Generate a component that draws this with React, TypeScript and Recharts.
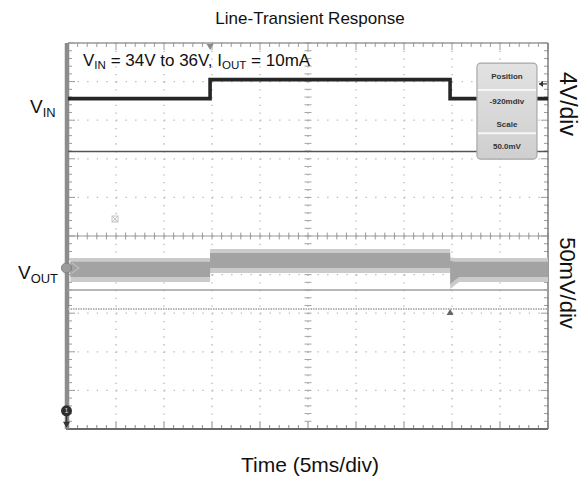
import React from 'react';
import {
  ComposedChart,
  Line,
  Area,
  XAxis,
  YAxis,
  CartesianGrid,
  ReferenceLine,
  ReferenceArea,
  ReferenceDot,
} from 'recharts';

// scope screen: 10 x 10 divisions, time 5 ms/div
const divTicks = [0, 1, 2, 3, 4, 5, 6, 7, 8, 9, 10];

// VIN trace (ch1, 4 V/div), in divisions
const vinTime = [0, 2.96, 2.96, 7.96, 7.96, 10];
const vinLevel = [8.56, 8.56, 9.05, 9.05, 8.56, 8.56];

// VOUT trace (ch2, 50 mV/div): noise envelope, in divisions
const voutTime = [0.05, 2.96, 2.96, 7.96, 7.965, 8.05, 8.15, 10];
const voutOuterLow = [3.81, 3.81, 4.04, 4.04, 3.63, 3.72, 3.81, 3.81];
const voutOuterHigh = [4.43, 4.43, 4.66, 4.66, 4.45, 4.43, 4.43, 4.43];
const voutInnerLow = [3.94, 3.94, 4.17, 4.17, 3.75, 3.85, 3.94, 3.94];
const voutInnerHigh = [4.33, 4.33, 4.56, 4.56, 4.36, 4.33, 4.33, 4.33];

const vinGround = 7.19;
const voutCursorA = 3.6;
const voutCursorB = 3.11;

const infoLabels = ['Position', '-920mdiv', 'Scale', '50.0mV'];

const vinData = vinTime.map((t, i) => ({ t, vin: vinLevel[i] }));
const voutData = voutTime.map((t, i) => ({
  t,
  outer: [voutOuterLow[i], voutOuterHigh[i]],
  inner: [voutInnerLow[i], voutInnerHigh[i]],
}));

const FONT = '"Liberation Sans", Arial, sans-serif';

const Frame = (props: any) => {
  const { x, y, width, height } = props;
  const dx = width / 10;
  const dy = height / 10;
  const els: React.ReactNode[] = [];
  for (let i = 0; i <= 50; i++) {
    const tx = x + (i * dx) / 5;
    const len = i % 5 === 0 ? 7 : 4;
    els.push(<line key={'t' + i} x1={tx} x2={tx} y1={y} y2={y + len} stroke="#9a9a9a" />);
    els.push(<line key={'b' + i} x1={tx} x2={tx} y1={y + height} y2={y + height - len} stroke="#8a8a8a" />);
    els.push(<line key={'c' + i} x1={tx} x2={tx} y1={y + 5 * dy - 3.5} y2={y + 5 * dy + 3.5} stroke="#9a9a9a" />);
  }
  for (let j = 0; j <= 50; j++) {
    const ty = y + (j * dy) / 5;
    const len = j % 5 === 0 ? 7 : 4;
    els.push(<line key={'l' + j} x1={x} x2={x + len} y1={ty} y2={ty} stroke="#9a9a9a" />);
    els.push(<line key={'r' + j} x1={x + width} x2={x + width - len} y1={ty} y2={ty} stroke="#9a9a9a" />);
    els.push(<line key={'m' + j} x1={x + 5 * dx - 3.5} x2={x + 5 * dx + 3.5} y1={ty} y2={ty} stroke="#a5a5a5" />);
  }
  return (
    <g>
      <line x1={x} x2={x + width} y1={y + 5 * dy} y2={y + 5 * dy} stroke="#9a9a9a" strokeWidth={1.2} />
      {els}
      <line x1={x} x2={x + width} y1={y} y2={y} stroke="#9a9a9a" strokeWidth={1.5} />
      <line x1={x + width} x2={x + width} y1={y} y2={y + height} stroke="#7c7c7c" strokeWidth={1.5} />
      <line x1={x - 2} x2={x + width} y1={y + height} y2={y + height} stroke="#6a6a6a" strokeWidth={2} />
      <line x1={x - 1} x2={x - 1} y1={y} y2={y + height} stroke="#8c8c8c" strokeWidth={4.5} />
    </g>
  );
};

const InfoBox = (props: any) => {
  const { x, y, width, height } = props;
  const cx = x + width / 2;
  const rowY = [0.135, 0.395, 0.635, 0.865];
  return (
    <g>
      <defs>
        <linearGradient id="infoGrad" x1="0" y1="0" x2="0" y2="1">
          <stop offset="0%" stopColor="#e2e2e2" />
          <stop offset="100%" stopColor="#cfcfcf" />
        </linearGradient>
      </defs>
      <rect x={x} y={y} width={width} height={height} rx={4} fill="url(#infoGrad)" stroke="#a8a8a8" strokeWidth={1.2} />
      <line x1={x + 1} x2={x + width - 1} y1={y + height * 0.28} y2={y + height * 0.28} stroke="#f6f6f6" strokeWidth={2} />
      <line x1={x + 1} x2={x + width - 1} y1={y + height * 0.73} y2={y + height * 0.73} stroke="#f6f6f6" strokeWidth={2} />
      {infoLabels.map((s, i) => (
        <text
          key={s}
          x={cx}
          y={y + height * rowY[i]}
          textAnchor="middle"
          dominantBaseline="central"
          fontFamily='"Liberation Sans Narrow", "Liberation Sans", Arial, sans-serif'
          fontWeight="bold"
          fontSize={8}
          fill="#333"
        >
          {s}
        </text>
      ))}
    </g>
  );
};

const TrigDown = ({ cx, cy }: any) => (
  <path d={`M${cx - 3.5},${cy + 1} L${cx + 3.5},${cy + 1} L${cx},${cy + 7} Z`} fill="#8a8a8a" />
);
const TrigUp = ({ cx, cy }: any) => (
  <path d={`M${cx - 3.5},${cy + 6} L${cx + 3.5},${cy + 6} L${cx},${cy} Z`} fill="#666" />
);
const RightArrow = ({ cx, cy }: any) => (
  <g>
    <line x1={cx - 9} x2={cx - 1} y1={cy} y2={cy} stroke="#333" strokeWidth={1.2} />
    <path d={`M${cx - 9},${cy} L${cx - 5},${cy - 3} L${cx - 5},${cy + 3} Z`} fill="#333" />
  </g>
);
const VoutMarker = ({ cx, cy }: any) => (
  <g>
    <path d={`M${cx + 4},${cy - 5} L${cx + 11},${cy} L${cx + 4},${cy + 5}`} fill="none" stroke="#bdbdbd" strokeWidth={1.2} />
    <circle cx={cx - 1.5} cy={cy} r={5} fill="#9c9c9c" stroke="#808080" />
  </g>
);
const Ch1Marker = ({ cx, cy }: any) => (
  <g>
    <line x1={cx - 1.5} x2={cx - 1.5} y1={cy} y2={cy + 14} stroke="#333" strokeWidth={1.5} />
    <path d={`M${cx - 5},${cy + 11} L${cx + 2},${cy + 11} L${cx - 1.5},${cy + 17} Z`} fill="#333" />
    <circle cx={cx - 1.5} cy={cy} r={5.5} fill="#2e2e2e" />
    <text x={cx - 1.5} y={cy} textAnchor="middle" dominantBaseline="central" fontSize={7} fill="#ddd" fontFamily={FONT}>
      1
    </text>
  </g>
);
const SmallIcon = ({ cx, cy }: any) => (
  <g stroke="#c4c4c4" fill="none" strokeWidth={1}>
    <rect x={cx - 3} y={cy - 3} width={6} height={6} />
    <path d={`M${cx - 3},${cy - 3} L${cx + 3},${cy + 3} M${cx + 3},${cy - 3} L${cx - 3},${cy + 3}`} />
  </g>
);

const Sub = ({ children }: any) => (
  <span style={{ fontSize: '0.68em', verticalAlign: '-0.28em' }}>{children}</span>
);

const abs = (extra: React.CSSProperties): React.CSSProperties => ({
  position: 'absolute',
  fontFamily: FONT,
  color: '#111',
  whiteSpace: 'nowrap',
  lineHeight: 1,
  ...extra,
});

export default function App() {
  return (
    <div style={{ position: 'absolute', left: 0, top: 0, width: 585, height: 481, background: '#fff' }}>
      <ComposedChart width={585} height={481} margin={{ top: 43, right: 37, bottom: 52, left: 68 }}>
        <XAxis dataKey="t" type="number" domain={[0, 10]} ticks={divTicks} hide allowDuplicatedCategory={false} />
        <YAxis type="number" domain={[0, 10]} ticks={divTicks} hide />
        <CartesianGrid horizontal={false} stroke="#b5b5b5" strokeWidth={1.3} strokeDasharray="1.3 6.42" />
        <CartesianGrid vertical={false} stroke="#b5b5b5" strokeWidth={1.3} strokeDasharray="1.3 8.3" />
        <ReferenceArea x1={0} x2={10} y1={0} y2={10} shape={<Frame />} />
        <ReferenceLine y={vinGround} stroke="#555" strokeWidth={1.5} />
        <ReferenceLine y={voutCursorA} stroke="#a0a0a0" strokeWidth={1.5} />
        <ReferenceLine y={voutCursorB} stroke="#b4b4b4" strokeWidth={2} strokeDasharray="1.5 1" />
        <Area data={voutData} dataKey="outer" type="linear" stroke="none" fill="#cbcbcb" fillOpacity={1} isAnimationActive={false} />
        <Area data={voutData} dataKey="inner" type="linear" stroke="none" fill="#a3a3a3" fillOpacity={1} isAnimationActive={false} />
        <Line data={vinData} dataKey="vin" type="linear" stroke="#262626" strokeWidth={3.6} dot={false} isAnimationActive={false} />
        <ReferenceArea x1={8.52} x2={9.77} y1={6.99} y2={9.48} shape={<InfoBox />} zIndex={2000} />
        <ReferenceDot x={2.96} y={10} shape={<TrigDown />} />
        <ReferenceDot x={7.96} y={voutCursorB} shape={<TrigUp />} />
        <ReferenceDot x={10} y={8.94} shape={<RightArrow />} />
        <ReferenceDot x={0} y={4.17} shape={<VoutMarker />} />
        <ReferenceDot x={0} y={0.47} shape={<Ch1Marker />} />
        <ReferenceDot x={0.98} y={5.44} shape={<SmallIcon />} />
      </ComposedChart>

      <div style={abs({ left: 110, width: 400, top: 10, textAlign: 'center', fontSize: 17 })}>Line-Transient Response</div>
      <div style={abs({ left: 83, top: 52, fontSize: 17 })}>
        V<Sub>IN</Sub> = 34V to 36V, I<Sub>OUT</Sub> = 10mA
      </div>
      <div style={abs({ left: 30, top: 97, fontSize: 19 })}>
        V<Sub>IN</Sub>
      </div>
      <div style={abs({ left: 18, top: 263, fontSize: 19 })}>
        V<Sub>OUT</Sub>
      </div>
      <div style={abs({ left: 567, top: 104, fontSize: 23, transform: 'translate(-50%, -50%) rotate(90deg)' })}>4V/div</div>
      <div style={abs({ left: 567, top: 283, fontSize: 22, transform: 'translate(-50%, -50%) rotate(90deg)' })}>50mV/div</div>
      <div style={abs({ left: 110, width: 400, top: 454, textAlign: 'center', fontSize: 21 })}>Time (5ms/div)</div>
    </div>
  );
}
